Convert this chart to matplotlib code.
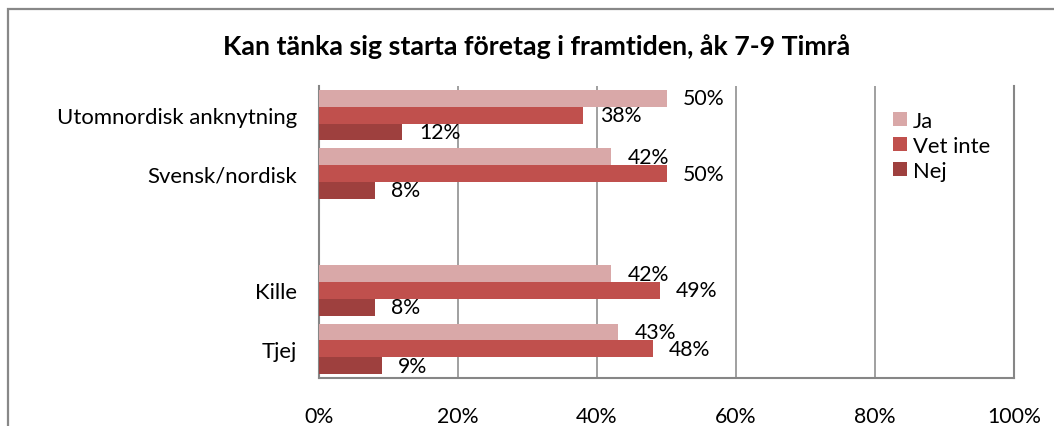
import numpy as np
import matplotlib
matplotlib.use("Agg")
import matplotlib.pyplot as plt
from matplotlib.patches import Rectangle, Patch

plt.rcParams['font.family'] = ['Lato', 'DejaVu Sans']

# Data
title = "Kan tänka sig starta företag i framtiden, åk 7-9 Timrå"
categories = ["Utomnordisk anknytning", "Svensk/nordisk", "", "Kille", "Tjej"]
series_names = ["Ja", "Vet inte", "Nej"]
ja = [50, 42, np.nan, 42, 43]
vet_inte = [38, 50, np.nan, 49, 48]
nej = [12, 8, np.nan, 8, 9]
x_ticks = [0, 20, 40, 60, 80, 100]

colors = ["#D9A8A8", "#C0504D", "#9E403E"]
grid_color = "#868686"

W, H = 1054, 427
fig = plt.figure(figsize=(W / 100, H / 100), dpi=100)
ax = fig.add_axes([319 / W, 1 - 379 / H, (1014 - 319) / W, (379 - 87) / H])

y = np.arange(len(categories))
bar_h = 0.287
offsets = [-bar_h, 0.0, bar_h]
series = [ja, vet_inte, nej]
label_fs = 15.3

for vals, off, col, name in zip(series, offsets, colors, series_names):
    vals = np.asarray(vals, dtype=float)
    ax.barh(y + off, vals, height=bar_h, color=col, label=name, zorder=3)
    for yi, v in zip(y, vals):
        if np.isnan(v):
            continue
        ax.annotate(f"{v:.0f}%", xy=(v, yi + off), xytext=(12, 0),
                    textcoords="offset points", ha="left", va="center",
                    fontsize=label_fs, color="black", zorder=4)

ax.set_xlim(0, 100)
ax.set_ylim(len(categories) - 0.5, -0.5)
ax.set_xticks(x_ticks)
ax.set_xticklabels([f"{t}%" for t in x_ticks], fontsize=label_fs)
ax.set_yticks(y)
ax.set_yticklabels(categories, fontsize=15.9)
ax.tick_params(axis="x", length=0, pad=20)
ax.tick_params(axis="y", length=0, pad=16)

ax.xaxis.grid(True, color=grid_color, linewidth=1.1, zorder=0)
ax.yaxis.grid(False)
ax.spines["top"].set_visible(False)
for side in ["left", "bottom", "right"]:
    ax.spines[side].set_color(grid_color)
    ax.spines[side].set_linewidth(1.5)

fig.text(0.5 * (222 + 851) / W, 1 - 47 / H, title, ha="center", va="center",
         fontsize=19.3, fontweight="bold")

handles = [Patch(facecolor=c, edgecolor="none") for c in colors]
fig.legend(handles, series_names, loc="upper left",
           bbox_to_anchor=(893 / W, 1 - 112 / H), frameon=False,
           fontsize=15.8, handlelength=0.62, handleheight=0.62,
           handletextpad=0.3, labelspacing=0.22, borderpad=0, borderaxespad=0)

# Chart area frame
fig.patches.append(Rectangle((8 / W, -0.2), 1.2, 1.2 - 10 / H,
                             transform=fig.transFigure, fill=False,
                             edgecolor="#888888", linewidth=1.6))

fig.savefig("out.png", dpi=100)
